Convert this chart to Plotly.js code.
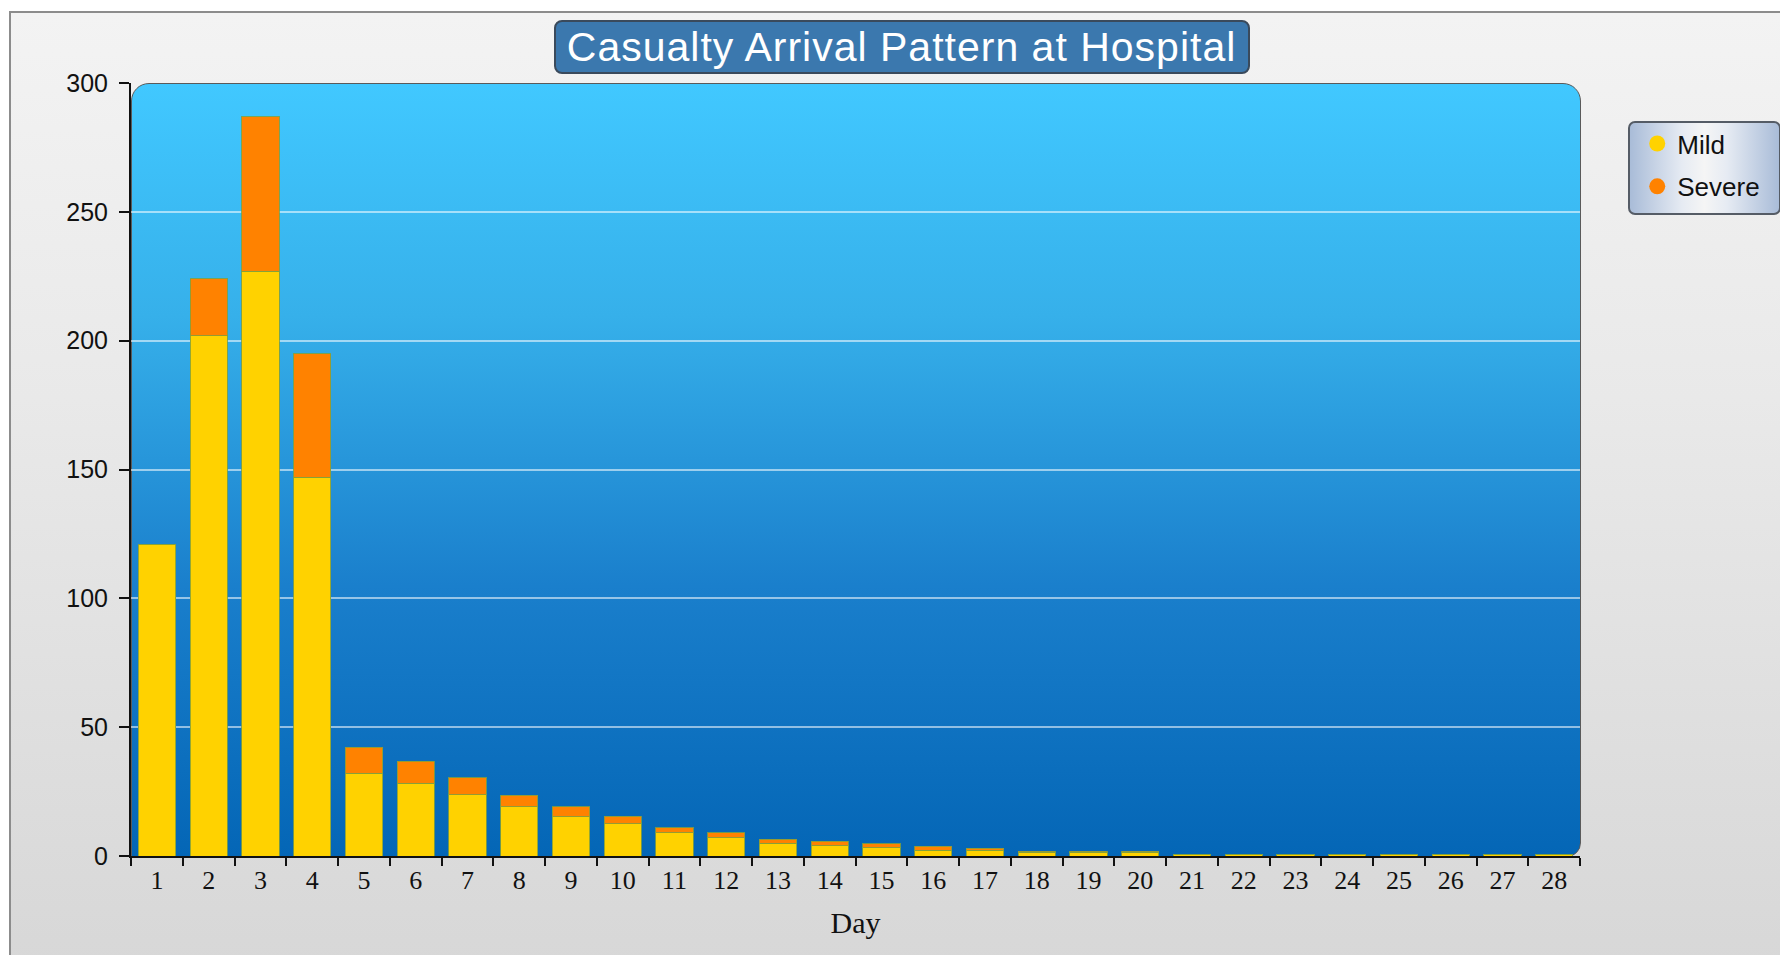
<!DOCTYPE html>
<html>
<head>
<meta charset="utf-8">
<script src="https://cdn.plot.ly/plotly-3.0.1.min.js"></script>
<style>
  html, body { margin: 0; padding: 0; background: #ffffff; width: 1780px; height: 955px; overflow: hidden; }
  #frame { position: absolute; left: 9px; top: 11px; width: 1790px; height: 960px;
           border-left: 2px solid #8c8c8c; border-top: 2px solid #8c8c8c;
           background: linear-gradient(to bottom, #f3f3f3 0%, #e9e9e9 40%, #d7d7d7 100%); }
  #plotbg { position: absolute; left: 131px; top: 83px; width: 1448px; height: 772px;
            border: 1px solid #5a5a5a; border-radius: 18px 18px 14px 0;
            background: linear-gradient(to bottom, #41c8ff 0%, #36b0ea 30%, #1a7fcc 65%, #0466b6 100%); }
  #titlebox { position: absolute; left: 554px; top: 20px; width: 692px; height: 50px;
              border: 2px solid #3a4a5c; border-radius: 8px; background: #3b78ae; }
  #legbox { position: absolute; left: 1628px; top: 121px; width: 149px; height: 90px;
            border: 2px solid #555c66; border-radius: 7px;
            background: linear-gradient(to right, #a9bcd8 0%, #e6ebf3 35%, #f5f5f5 50%, #e6ebf3 65%, #a9bcd8 100%); }
  #chart { position: absolute; left: 0; top: 0; width: 1780px; height: 955px; }
  #chart .gtitle { letter-spacing: 1px; }
</style>
</head>
<body>
<div id="frame"></div>
<div id="plotbg"></div>
<div id="titlebox"></div>
<div id="legbox"></div>
<div id="chart"></div>
<script>
const days = ['1','2','3','4','5','6','7','8','9','10','11','12','13','14','15','16','17','18','19','20','21','22','23','24','25','26','27','28'];
const mild = [121, 202, 227, 147, 32.1, 28.3, 23.8, 19.1, 15.3, 12.6, 9.0, 7.1, 4.9, 4.0, 3.3, 2.3, 2.2, 1.5, 1.5, 1.5, 0.4, 0.4, 0.4, 0.4, 0.4, 0.4, 0.4, 0.4];
const severe = [0, 22, 60, 48, 10.1, 8.5, 6.5, 4.5, 3.8, 2.9, 1.9, 2.0, 1.6, 1.7, 1.5, 1.4, 0.8, 0.4, 0.4, 0.4, 0.1, 0.1, 0.1, 0.1, 0.1, 0.1, 0.1, 0.1];
const seriesNames = ['Mild', 'Severe'];
const seriesColors = ['#ffd200', '#ff8200'];
const yTicks = [0, 50, 100, 150, 200, 250, 300];

const barLine = { color: 'rgba(130,160,60,0.85)', width: 1 };
const traces = [
  { type: 'bar', name: seriesNames[0], x: days, y: mild, marker: { color: seriesColors[0], line: barLine }, showlegend: false, hoverinfo: 'x+y+name' },
  { type: 'bar', name: seriesNames[1], x: days, y: severe, marker: { color: seriesColors[1], line: barLine }, showlegend: false, hoverinfo: 'x+y+name' },
  { type: 'scatter', mode: 'markers', name: seriesNames[0], x: [null], y: [null], legendgroup: 'a',
    marker: { color: seriesColors[0], size: 18, symbol: 'circle' } },
  { type: 'scatter', mode: 'markers', name: seriesNames[1], x: [null], y: [null], legendgroup: 'b',
    marker: { color: seriesColors[1], size: 18, symbol: 'circle' } }
];

const layout = {
  width: 1780, height: 955,
  margin: { l: 131, r: 200, t: 83, b: 99 },
  paper_bgcolor: 'rgba(0,0,0,0)',
  plot_bgcolor: 'rgba(0,0,0,0)',
  barmode: 'stack',
  bargap: 0.28,
  title: { text: 'Casualty Arrival Pattern at Hospital', x: 0.5065, xref: 'container', xanchor: 'center',
           y: 0.9513, yref: 'container', yanchor: 'middle',
           font: { family: 'Liberation Sans, Arial, sans-serif', size: 41, color: '#ffffff' } },
  xaxis: {
    type: 'category', categoryorder: 'array', categoryarray: days,
    showline: true, linecolor: '#111111', linewidth: 2,
    ticks: 'outside', tickson: 'boundaries', ticklen: 8, tickwidth: 2, tickcolor: '#111111',
    showgrid: false, zeroline: false,
    tickfont: { family: 'Liberation Serif, Times New Roman, serif', size: 26, color: '#111111' },
    title: { text: 'Day', standoff: 18, font: { family: 'Liberation Serif, Times New Roman, serif', size: 30, color: '#111111' } }
  },
  yaxis: {
    range: [0, 300], tickvals: yTicks, ticktext: yTicks.map(String),
    showline: true, linecolor: '#111111', linewidth: 2,
    ticks: 'outside', ticklen: 10, tickwidth: 2, tickcolor: '#111111', ticklabelstandoff: 6,
    showgrid: true, gridcolor: 'rgba(255,255,255,0.55)', gridwidth: 2,
    zeroline: false,
    tickfont: { family: 'Liberation Sans, Arial, sans-serif', size: 25, color: '#111111' }
  },
  legend: {
    x: 1.0395, xanchor: 'left', y: 0.952, yanchor: 'top',
    bgcolor: 'rgba(0,0,0,0)', borderwidth: 0,
    traceorder: 'grouped', tracegroupgap: 6,
    font: { family: 'Liberation Sans, Arial, sans-serif', size: 26, color: '#111111' }
  },
  showlegend: true
};

Plotly.newPlot('chart', traces, layout, { displayModeBar: false, staticPlot: true });
</script>
</body>
</html>
